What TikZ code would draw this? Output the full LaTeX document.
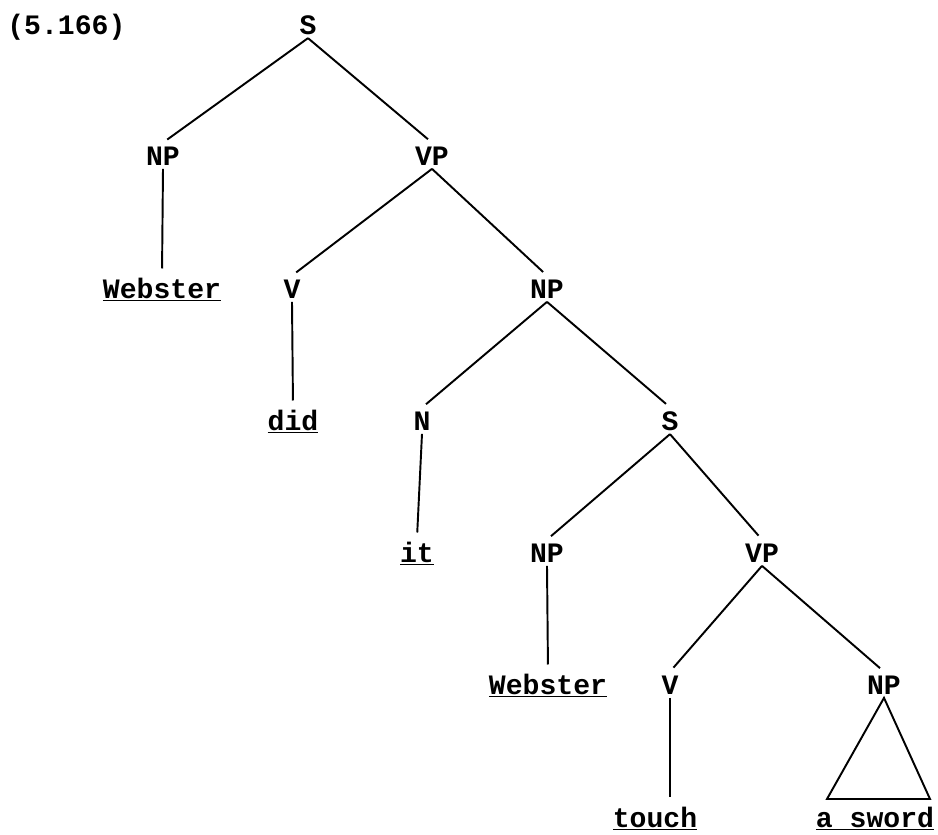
\documentclass[tikz,border=0pt]{standalone}
\usepackage{fontspec}
\setmonofont{Liberation Mono}
\usetikzlibrary{positioning}

\begin{document}
\begin{tikzpicture}[
    x=0.02cm, y=-0.02cm,
    every node/.style={font=\ttfamily\bfseries\fontsize{16}{19}\selectfont, inner sep=2pt, anchor=base},
    cat/.style={},
    word/.style={},
    branch/.style={line width=1.1pt, shorten >=3pt}
]
\useasboundingbox (0,0) rectangle (938,835);
\node[inner sep=0pt, anchor=base west] (num) at (7,34) {(5.166)};
% categories, level by level
\node[cat] (s1)  at (308,34)  {S};
\node[cat] (np1) at (163,165) {NP};
\node[cat] (vp1) at (432,165) {VP};
\node[word] (web1) at (162,298) {\underline{Webster}};
\node[cat] (v1)  at (292,298) {V};
\node[cat] (np2) at (547,298) {NP};
\node[word] (did) at (293,430) {\underline{did}};
\node[cat] (n1)  at (422,430) {N};
\node[cat] (s2)  at (670,430) {S};
\node[word] (it) at (417,562) {\underline{it}};
\node[cat] (np3) at (547,562) {NP};
\node[cat] (vp2) at (762,562) {VP};
\node[word] (web2) at (548,694) {\underline{Webster}};
\node[cat] (v2)  at (670,694) {V};
\node[cat] (np4) at (884,694) {NP};
\node[word] (touch) at (655,827) {\underline{touch}};
\node[word] (sword) at (875,827) {\underline{a sword}};
% branches
\draw[branch] (s1.south) -- (np1.north);
\draw[branch] (s1.south) -- (vp1.north);
\draw[branch] (np1.south) -- (web1.north);
\draw[branch] (vp1.south) -- (v1.north);
\draw[branch] (vp1.south) -- (np2.north);
\draw[branch] (v1.south) -- (did.north);
\draw[branch] (np2.south) -- (n1.north);
\draw[branch] (np2.south) -- (s2.north);
\draw[branch] (n1.south) -- (it.north);
\draw[branch] (s2.south) -- (np3.north);
\draw[branch] (s2.south) -- (vp2.north);
\draw[branch] (np3.south) -- (web2.north);
\draw[branch] (vp2.south) -- (v2.north);
\draw[branch] (vp2.south) -- (np4.north);
\draw[branch] (v2.south) -- (v2.south |- touch.north);
% triangle over a sword
\coordinate (tl) at (827,799);
\coordinate (tr) at (930,799);
\draw[line width=1.1pt] (np4.south) -- (tl) -- (tr) -- cycle;
\end{tikzpicture}
\end{document}
